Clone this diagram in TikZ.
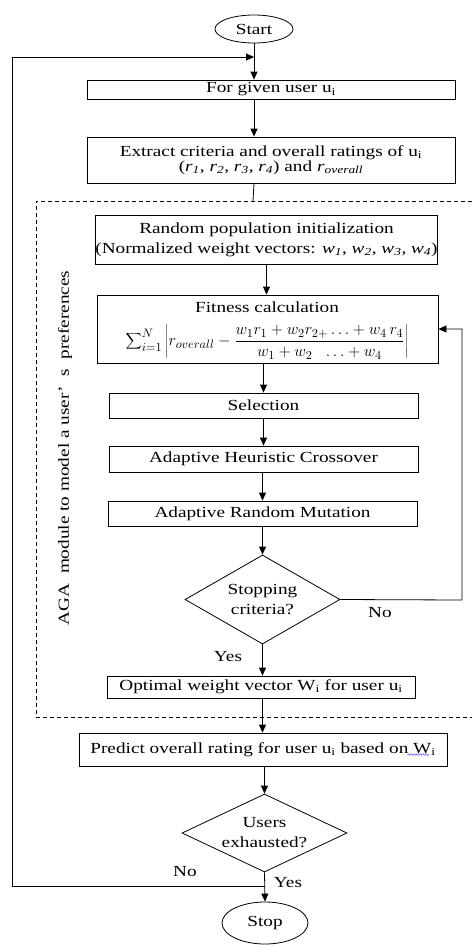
\documentclass[tikz,border=0pt]{standalone}
\usepackage[no-math]{fontspec}
\setmainfont{Liberation Serif}[FakeStretch=1.25]
\usetikzlibrary{arrows.meta,shapes.geometric,decorations.pathmorphing}
\newcommand{\rsub}[1]{\textit{r}\textsubscript{\textit{#1}}}
\newcommand{\wsub}[1]{\textit{w}\textsubscript{\textit{#1}}}
\newcommand{\isub}{\textsubscript{i}}
\begin{document}
\begin{tikzpicture}[x=1pt,y=-1pt,line width=0.8pt,
  every node/.style={font=\fontsize{15.4}{18}\selectfont,inner sep=0pt},
  procbox/.style={draw,rectangle},
  terminal/.style={draw,ellipse},
  decision/.style={draw,diamond,align=center,font=\fontsize{15.4}{20}\selectfont},
  arr/.style={-{Triangle[length=8pt,width=7pt]}},
  spellmark/.style={draw=blue!75!white,line width=0.5pt,decorate,
    decoration={snake,amplitude=0.8pt,segment length=3pt}}]
\useasboundingbox (0,0) rectangle (472,946);

% terminals and process steps
\node[terminal,minimum width=78pt,minimum height=28pt] (start) at (254,29) {Start};
\node[procbox,minimum width=368pt,minimum height=19pt] (given) at (271,89.5) {For given user u\isub};
\node[procbox,minimum width=368pt,minimum height=46pt,align=center,font=\fontsize{15.4}{15}\selectfont] (extract) at (271,160)
  {Extract criteria and overall ratings of u\isub\\ (\rsub{1}, \rsub{2}, \rsub{3}, \rsub{4}) and \rsub{overall}};

% AGA module frame
\draw[dashed,line width=0.6pt,dash pattern=on 4pt off 3pt] (472,201) -| (36,717) -- (472,717);
\coordinate (frametop) at (253,201);
\node[rotate=90] (aga) at (65,448) {AGA\ \ module to model a user’\ \ s\ \ preferences};

\node[procbox,minimum width=339pt,minimum height=49pt,align=center,font=\fontsize{15.4}{20}\selectfont] (init) at (266.5,239.5)
  {Random population initialization\\(Normalized weight vectors: \wsub{1}, \wsub{2}, \wsub{3}, \wsub{4})};

% fitness box: frame plus title and formula placed inside it
\node[procbox,minimum width=341pt,minimum height=68pt] (fit) at (267.5,329) {};
\node (fittitle) at (267,307) {Fitness calculation};
\node (fitformula) at (267,342)
  {\scalebox{1.12}{$\displaystyle\sum\nolimits_{i=1}^{N}\left|r_{overall}-\frac{w_1r_1+w_2r_{2+}\dots+w_4\,r_4}{w_1+w_2\ \ \dots+w_4}\right|$}};

\node[procbox,minimum width=309pt,minimum height=25pt] (sel) at (263.5,405.5) {Selection};
\node[procbox,minimum width=309pt,minimum height=26pt] (cross) at (263.5,459) {Adaptive Heuristic Crossover};
\node[procbox,minimum width=309pt,minimum height=25pt] (mut) at (262.5,513.5) {Adaptive Random Mutation};
\node[decision,minimum width=155pt,minimum height=89pt,shape aspect=1.74] (stopq) at (262.5,599.5) {Stopping\\criteria?};
\node[procbox,minimum width=308pt,minimum height=22pt] (opt) at (261,687) {Optimal weight vector W\isub\ for user u\isub};

\node[procbox,minimum width=368pt,minimum height=33pt] (pred) at (263,749.5) {Predict overall rating for user u\isub\ based on W\isub};
\draw[spellmark] ([xshift=-40pt,yshift=-5pt]pred.east) -- ([xshift=-18pt,yshift=-5pt]pred.east);
\node[decision,minimum width=165pt,minimum height=78pt,shape aspect=2.1] (users) at (264.5,833) {Users\\exhausted?};
\node[terminal,minimum width=86pt,minimum height=42pt] (finish) at (265,923) {Stop};

% main flow
\draw[arr] (start.south) -- (start.south |- given.north);
\draw[arr] (given.south -| start.south) -- (extract.north -| start.south);
\draw (extract.south -| start.south) -- (frametop);
\draw[arr] (init.south) -- (init.south |- fit.north);
\draw[arr] (fit.south -| sel.north) -- (sel.north);
\draw[arr] (sel.south) -- (cross.north);
\draw[arr] (cross.south -| mut.north) -- (mut.north);
\draw[arr] (mut.south) -- (stopq.north);
\draw[arr] (stopq.south) -- (stopq.south |- opt.north);
\draw[arr] (opt.south -| stopq.south) -- (stopq.south |- pred.north);
\draw[arr] (pred.south -| users.north) -- (users.north);
\draw[arr] (users.south) -- (finish.north);

% loop back to fitness
\coordinate (rightrail) at (462,600);
\draw[arr] (stopq.east) -- (rightrail) |- (fit.east);
\node (no1) at (380,613) {No};
\node (yes1) at (228,657) {Yes};

% loop back to next user
\coordinate (branch) at (264.5,886);
\coordinate (leftrail) at (12,886);
\coordinate (join) at (254,57);
\draw[arr] (branch) -- (leftrail) |- (join);
\node (no2) at (185,872) {No};
\node (yes2) at (288,883) {Yes};
\end{tikzpicture}
\end{document}
